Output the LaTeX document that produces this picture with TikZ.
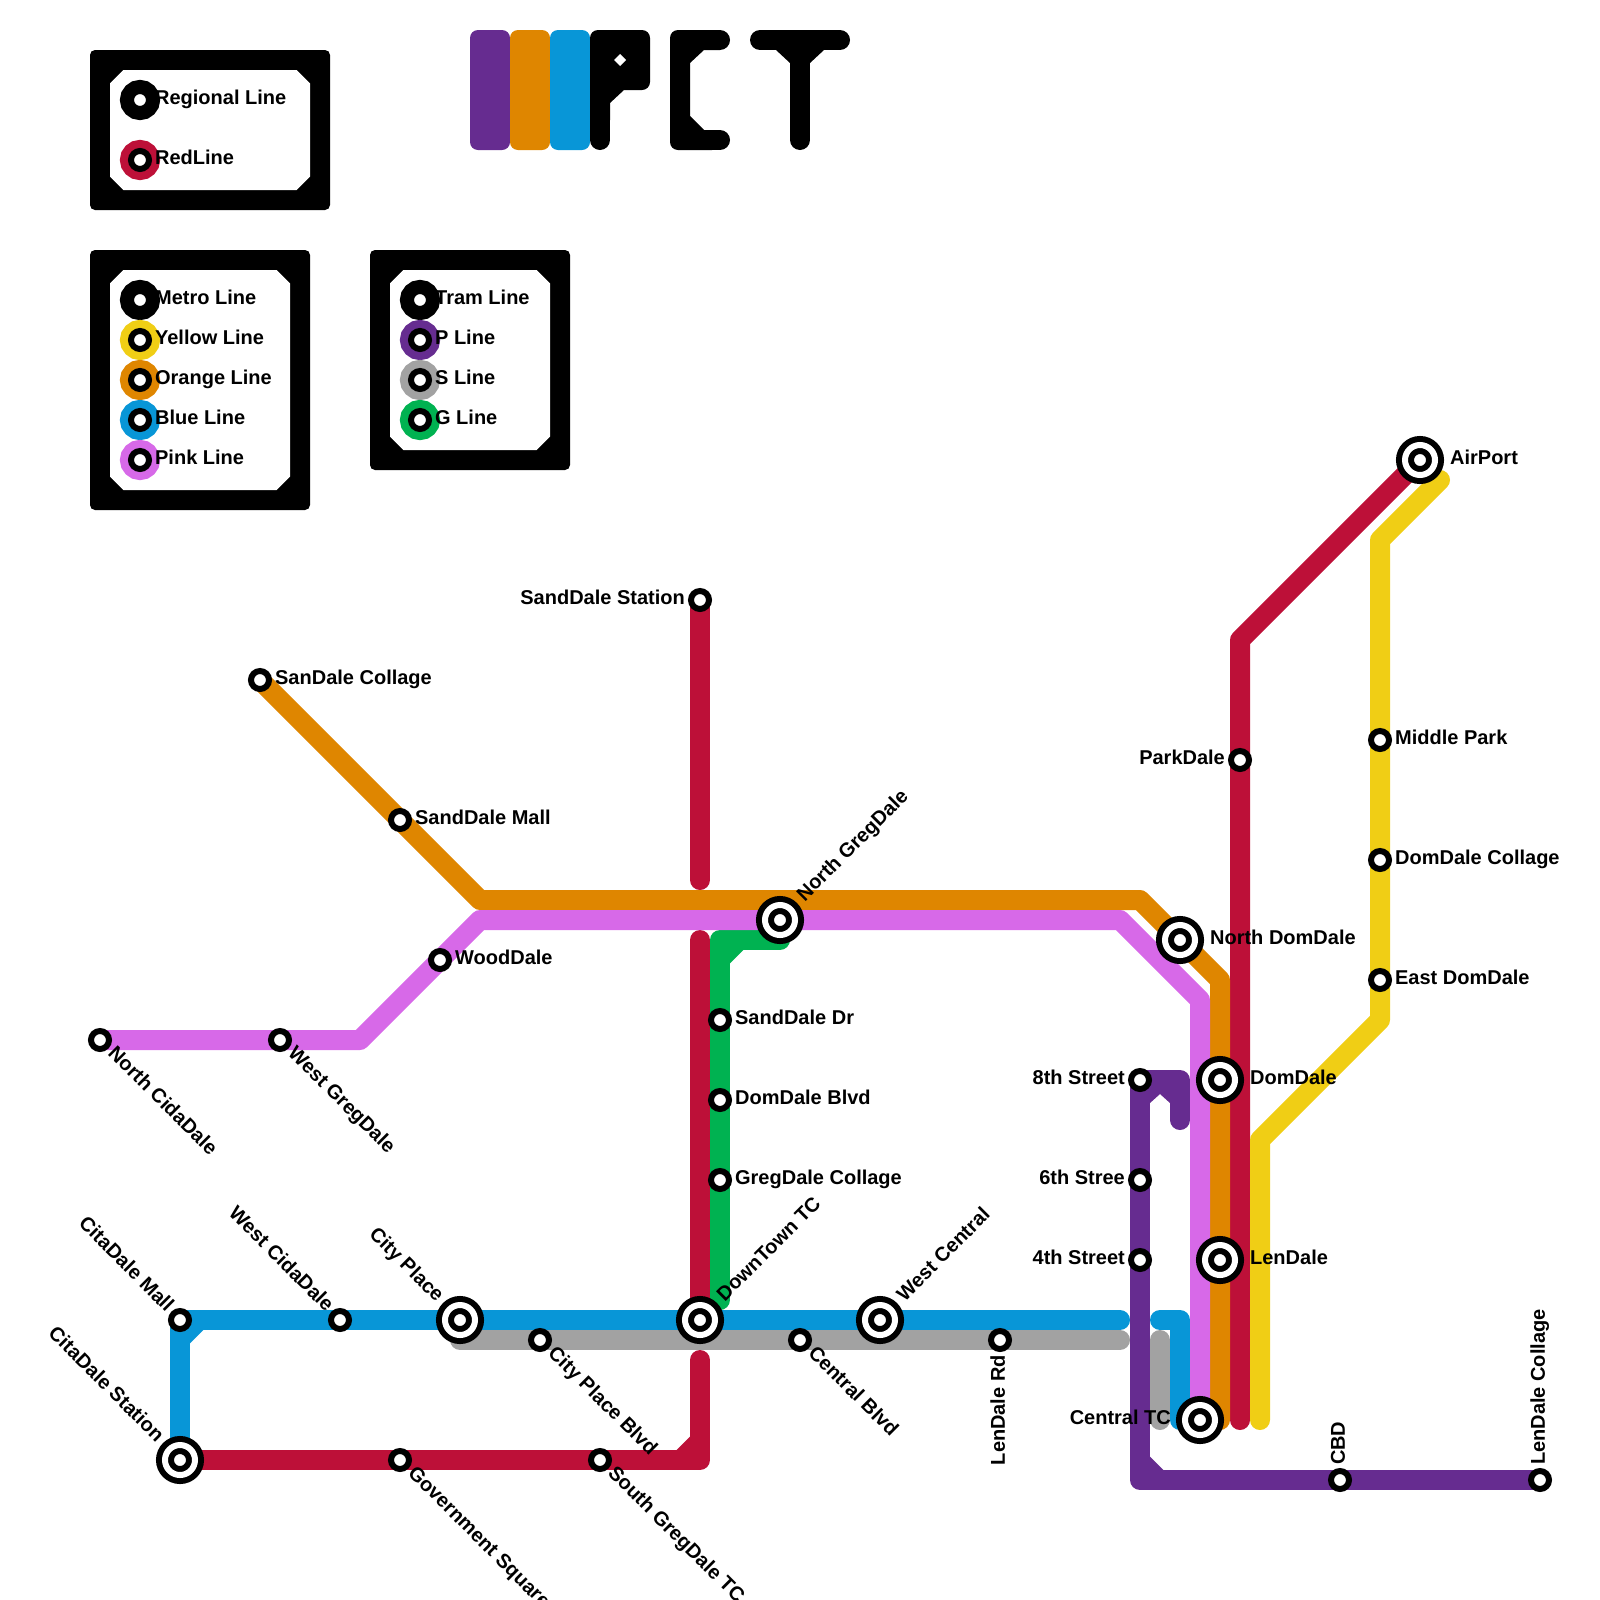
\documentclass[tikz,border=0pt]{standalone}
\usepackage{fontspec}
\setmainfont{Liberation Sans}
\usetikzlibrary{backgrounds}
\definecolor{lred}{HTML}{BD1038}
\definecolor{lorange}{HTML}{DF8600}
\definecolor{lyellow}{HTML}{F0CE15}
\definecolor{lgreen}{HTML}{00B251}
\definecolor{lblue}{HTML}{0896D7}
\definecolor{lpurple}{HTML}{662C90}
\definecolor{lsilver}{HTML}{A2A2A2}
\definecolor{lpink}{HTML}{D769E8}
\newcommand{\tagfont}{\bfseries\fontsize{28.45}{32}\selectfont}
% outer block with a chamfered white window
\newcommand{\keybox}[4]{%
  \fill[rounded corners=.25cm] (#1,#2) rectangle (#3,#4);
  \fill[white] (#1+1.67,#2+1)--(#3-1.67,#2+1)--(#3-1,#2+1.67)--(#3-1,#4-1.67)--(#3-1.67,#4-1)--(#1+1.67,#4-1)--(#1+1,#4-1.67)--(#1+1,#2+1.67)--cycle;}
% fills the inner side of a right-angled bend
\newcommand{\notch}[5]{\fill[#1] (#2,#3)--++(#4,0)--++(-#4,#5)--cycle;}
\tikzset{
  metro/.style={line width=1cm,line cap=round,line join=round},
  stop/.style={circle,fill=white,draw=black,line width=.3cm,minimum size=.9cm,inner sep=0pt,outer sep=0pt},
  hub/.style={circle,fill=white,draw=black,double=white,line width=.3cm,double distance=.3cm,minimum size=1.5cm,inner sep=0pt,outer sep=0pt},
  keystop/.style={stop,preaction={draw=#1,line width=1.1cm}},
  tagr/.style={rotate=#1,anchor=base west,inner sep=0pt,xshift=.75cm,yshift=-.245cm},
  tagr/.default=0,
  tagl/.style={rotate=#1,anchor=base east,inner sep=0pt,xshift=-.75cm,yshift=-.245cm},
  tagl/.default=0,
  hubr/.style={rotate=#1,anchor=base west,inner sep=0pt,xshift=1.5cm,yshift=-.245cm},
  hubr/.default=0,
  hubl/.style={rotate=#1,anchor=base east,inner sep=0pt,xshift=-1.45cm,yshift=-.245cm},
  hubl/.default=0,
}
\begin{document}
\begin{tikzpicture}[x=1cm,y=-1cm,every node/.style={font=\tagfont}]
\useasboundingbox (0,0) rectangle (80,80);
% legend
\keybox{4.5}{2.5}{16.5}{10.5}
\keybox{4.5}{12.5}{15.5}{25.5}
\keybox{18.5}{12.5}{28.5}{23.5}
\node[keystop=black] (kregional) at (7,5) {}; \node[tagr] (kregionalT) at (kregional) {Regional Line};
\node[keystop=lred] (kred) at (7,8) {}; \node[tagr] (kredT) at (kred) {RedLine};
\node[keystop=black] (kmetro) at (7,15) {}; \node[tagr] (kmetroT) at (kmetro) {Metro Line};
\node[keystop=lyellow] (kyellow) at (7,17) {}; \node[tagr] (kyellowT) at (kyellow) {Yellow Line};
\node[keystop=lorange] (korange) at (7,19) {}; \node[tagr] (korangeT) at (korange) {Orange Line};
\node[keystop=lblue] (kblue) at (7,21) {}; \node[tagr] (kblueT) at (kblue) {Blue Line};
\node[keystop=lpink] (kpink) at (7,23) {}; \node[tagr] (kpinkT) at (kpink) {Pink Line};
\node[keystop=black] (ktram) at (21,15) {}; \node[tagr] (ktramT) at (ktram) {Tram Line};
\node[keystop=lpurple] (kp) at (21,17) {}; \node[tagr] (kpT) at (kp) {P Line};
\node[keystop=lsilver] (ks) at (21,19) {}; \node[tagr] (ksT) at (ks) {S Line};
\node[keystop=lgreen] (kg) at (21,21) {}; \node[tagr] (kgT) at (kg) {G Line};
% title
\fill[lpurple,rounded corners=.4cm] (23.5,1.5) rectangle (25.5,7.5);
\fill[lorange,rounded corners=.4cm] (25.5,1.5) rectangle (27.5,7.5);
\fill[lblue,rounded corners=.4cm] (27.5,1.5) rectangle (29.5,7.5);
\fill (29.5,4) [rounded corners=.4cm] -- (29.5,1.5) -- (32.5,1.5) -- (32.5,4.5) [sharp corners] -- (31.2,4.5) -- (30.5,5.15) -- (30.5,6) -- (29.5,6) -- cycle;
\draw[metro] (30,5)--(30,7);
\fill[white] (31,2.7)--(31.3,3)--(31,3.3)--(30.7,3)--cycle;
\fill (36,1.5) [rounded corners=.4cm] -- (33.5,1.5) -- (33.5,7.5) -- (36,7.5) [sharp corners] -- (36,6.5) -- (35.2,6.5) -- (34.5,5.8) -- (34.5,3.15) -- (35.2,2.5) -- (36,2.5) -- cycle;
\draw[metro] (35.5,2)--(36,2); \draw[metro] (35.5,7)--(36,7);
\draw[metro] (38,2)--(42,2); \draw[metro] (40,2)--(40,7);
\fill (38.8,2.5)--(41.2,2.5)--(40.5,3.15)--(39.5,3.15)--cycle;
% stations
\node[stop] (sandstation) at (35,30) {}; \node[tagl] (sandstationT) at (sandstation) {SandDale Station};
\node[stop] (sancollage) at (13,34) {}; \node[tagr] (sancollageT) at (sancollage) {SanDale Collage};
\node[stop] (sandmall) at (20,41) {}; \node[tagr] (sandmallT) at (sandmall) {SandDale Mall};
\node[stop] (wooddale) at (22,48) {}; \node[tagr] (wooddaleT) at (wooddale) {WoodDale};
\node[stop] (northcida) at (5,52) {}; \node[tagr=-45] (northcidaT) at (northcida) {North CidaDale};
\node[stop] (westgreg) at (14,52) {}; \node[tagr=-45] (westgregT) at (westgreg) {West GregDale};
\node[hub] (northgreg) at (39,46) {}; \node[hubr=45] (northgregT) at (northgreg) {North GregDale};
\node[stop] (sanddr) at (36,51) {}; \node[tagr] (sanddrT) at (sanddr) {SandDale Dr};
\node[stop] (domblvd) at (36,55) {}; \node[tagr] (domblvdT) at (domblvd) {DomDale Blvd};
\node[stop] (gregcollage) at (36,59) {}; \node[tagr] (gregcollageT) at (gregcollage) {GregDale Collage};
\node[stop] (citamall) at (9,66) {}; \node[tagl=-45] (citamallT) at (citamall) {CitaDale Mall};
\node[stop] (westcida) at (17,66) {}; \node[tagl=-45] (westcidaT) at (westcida) {West CidaDale};
\node[hub] (cityplace) at (23,66) {}; \node[hubl=-45] (cityplaceT) at (cityplace) {City Place};
\node[hub] (downtown) at (35,66) {}; \node[hubr=45] (downtownT) at (downtown) {DownTown TC};
\node[hub] (westcentral) at (44,66) {}; \node[hubr=45] (westcentralT) at (westcentral) {West Central};
\node[stop] (cityblvd) at (27,67) {}; \node[tagr=-45] (cityblvdT) at (cityblvd) {City Place Blvd};
\node[stop] (centralblvd) at (40,67) {}; \node[tagr=-45] (centralblvdT) at (centralblvd) {Central Blvd};
\node[stop] (lenrd) at (50,67) {}; \node[tagl=90] (lenrdT) at (lenrd) {LenDale Rd};
\node[hub] (citastation) at (9,73) {}; \node[hubl=-45] (citastationT) at (citastation) {CitaDale Station};
\node[stop] (govsquare) at (20,73) {}; \node[tagr=-45] (govsquareT) at (govsquare) {Government Square};
\node[stop] (southgreg) at (30,73) {}; \node[tagr=-45] (southgregT) at (southgreg) {South GregDale TC};
\node[hub] (northdom) at (59,47) {}; \node[hubr] (northdomT) at (northdom) {North DomDale};
\node[stop] (eighth) at (57,54) {}; \node[tagl] (eighthT) at (eighth) {8th Street};
\node[stop] (sixth) at (57,59) {}; \node[tagl] (sixthT) at (sixth) {6th Stree};
\node[stop] (fourth) at (57,63) {}; \node[tagl] (fourthT) at (fourth) {4th Street};
\node[hub] (domdale) at (61,54) {}; \node[hubr] (domdaleT) at (domdale) {DomDale};
\node[hub] (lendale) at (61,63) {}; \node[hubr] (lendaleT) at (lendale) {LenDale};
\node[hub] (centraltc) at (60,71) {}; \node[hubl] (centraltcT) at (centraltc) {Central TC};
\node[hub] (airport) at (71,23) {}; \node[hubr] (airportT) at (airport) {AirPort};
\node[stop] (parkdale) at (62,38) {}; \node[tagl] (parkdaleT) at (parkdale) {ParkDale};
\node[stop] (middlepark) at (69,37) {}; \node[tagr] (middleparkT) at (middlepark) {Middle Park};
\node[stop] (domcollage) at (69,43) {}; \node[tagr] (domcollageT) at (domcollage) {DomDale Collage};
\node[stop] (eastdom) at (69,49) {}; \node[tagr] (eastdomT) at (eastdom) {East DomDale};
\node[stop] (cbd) at (67,74) {}; \node[tagr=90] (cbdT) at (cbd) {CBD};
\node[stop] (lencollage) at (77,74) {}; \node[tagr=90] (lencollageT) at (lencollage) {LenDale Collage};
% bends and free ends
\coordinate (oa) at (24,45); \coordinate (ob) at (57,45); \coordinate (oc) at (61,49); \coordinate (od) at (61,71);
\coordinate (pa) at (18,52); \coordinate (pb) at (24,46); \coordinate (pc) at (56,46); \coordinate (pd) at (60,50);
\coordinate (ra) at (35,44); \coordinate (rb) at (35,47); \coordinate (rc) at (35,68); \coordinate (rd) at (35,73);
\coordinate (re) at (62,32); \coordinate (rf) at (62,71);
\coordinate (ya) at (72,24); \coordinate (yb) at (69,27); \coordinate (yc) at (69,51); \coordinate (yd) at (63,57); \coordinate (ye) at (63,71);
\coordinate (ga) at (36,47); \coordinate (gb) at (39,47); \coordinate (gc) at (36,65);
\coordinate (ba) at (56,66); \coordinate (bb) at (58,66); \coordinate (bc) at (59,66); \coordinate (bd) at (59,71);
\coordinate (sa) at (23,67); \coordinate (sb) at (56,67); \coordinate (sc) at (58,67); \coordinate (sd) at (58,71);
\coordinate (ua) at (59,54); \coordinate (ub) at (59,56); \coordinate (uc) at (57,74);
% lines
\begin{scope}[on background layer]
\draw[metro,lsilver] (sa)--(sb); \draw[metro,lsilver] (sc)--(sd);
\draw[metro,lblue] (citastation.center)--(citamall.center)--(ba); \draw[metro,lblue] (bb)--(bc)--(bd)--(centraltc.center);
\notch{lblue}{9.5}{66.5}{.67}{.67}
\draw[metro,lred] (sandstation.center)--(ra); \draw[metro,lred] (rb)--(downtown.center);
\draw[metro,lred] (citastation.center)--(rd)--(rc);
\notch{lred}{34.5}{72.5}{-.67}{-.67}
\draw[metro,lred] (airport.center)--(re)--(rf);
\draw[metro,lgreen] (gb)--(ga)--(gc);
\notch{lgreen}{36.5}{47.5}{.67}{.67}
\draw[metro,lorange] (sancollage.center)--(oa)--(ob)--(oc)--(od);
\draw[metro,lpink] (northcida.center)--(pa)--(pb)--(pc)--(pd)--(centraltc.center);
\draw[metro,lyellow] (ya)--(yb)--(yc)--(yd)--(ye);
\draw[metro,lpurple] (ub)--(ua)--(eighth.center)--(uc)--(lencollage.center);
\fill[lpurple] (57.5,54.5)--(58.5,54.5)--(58.5,55.15)--(58,54.7)--(57.5,55.15)--cycle;
\notch{lpurple}{57.5}{73.5}{.67}{-.67}
\end{scope}
\end{tikzpicture}
\end{document}
